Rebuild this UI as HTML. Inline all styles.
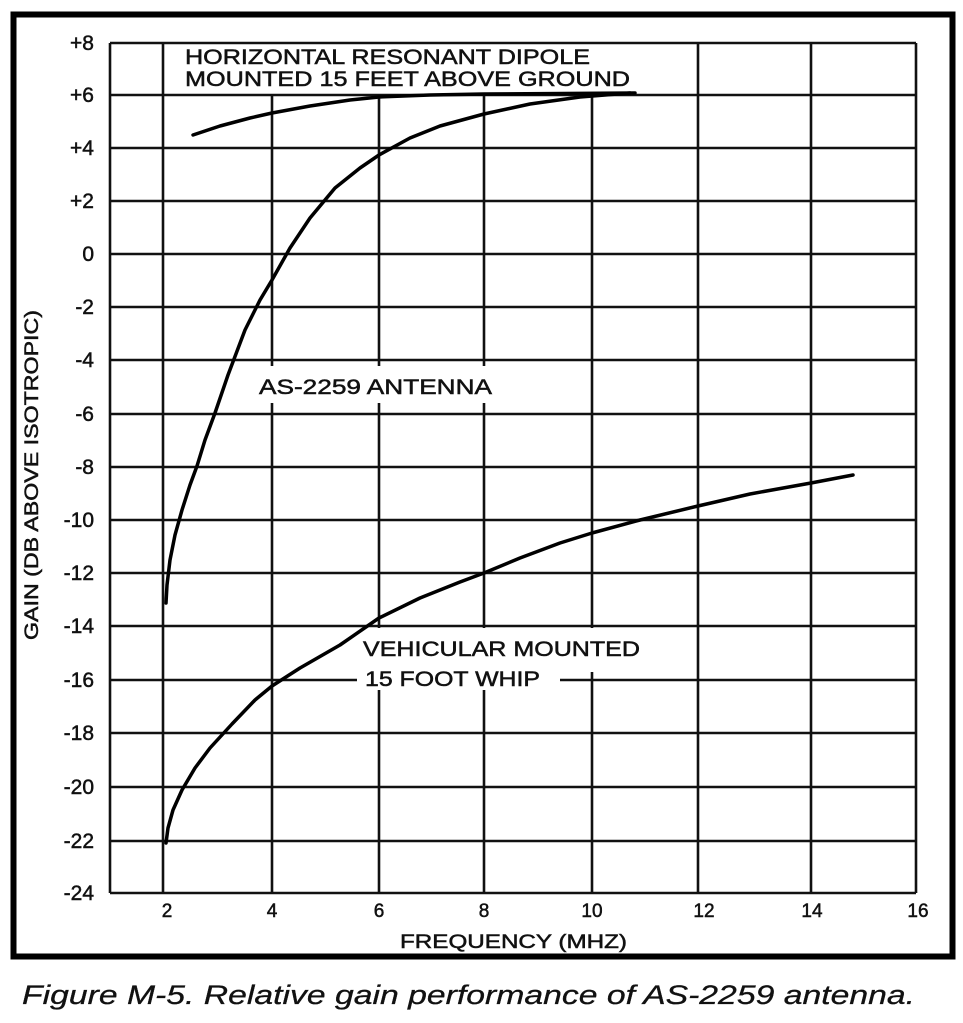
<!DOCTYPE html>
<html><head><meta charset="utf-8"><style>
body{margin:0;background:#fff;width:963px;height:1023px;overflow:hidden}
svg{display:block}
text{font-family:"Liberation Sans",Arial,sans-serif;fill:#111;stroke:#111;stroke-width:0.5}
</style></head><body>
<svg width="963" height="1023" viewBox="0 0 963 1023">
<rect x="13.5" y="14.5" width="939" height="942" fill="none" stroke="#000" stroke-width="6"/>
<g stroke="#111" stroke-width="2.6" fill="none">
<line x1="110" y1="43" x2="916" y2="43"/>
<line x1="110" y1="95" x2="916" y2="95"/>
<line x1="110" y1="148" x2="916" y2="148"/>
<line x1="110" y1="201" x2="916" y2="201"/>
<line x1="110" y1="254" x2="916" y2="254"/>
<line x1="110" y1="307" x2="916" y2="307"/>
<line x1="110" y1="360" x2="916" y2="360"/>
<line x1="110" y1="414" x2="916" y2="414"/>
<line x1="110" y1="467" x2="916" y2="467"/>
<line x1="110" y1="520" x2="916" y2="520"/>
<line x1="110" y1="573" x2="916" y2="573"/>
<line x1="110" y1="626" x2="916" y2="626"/>
<line x1="110" y1="680" x2="357" y2="680"/>
<line x1="560" y1="680" x2="916" y2="680"/>
<line x1="110" y1="733" x2="916" y2="733"/>
<line x1="110" y1="787" x2="916" y2="787"/>
<line x1="110" y1="841" x2="916" y2="841"/>
<line x1="110" y1="893" x2="916" y2="893"/>
<line x1="110" y1="43" x2="110" y2="893"/>
<line x1="916" y1="43" x2="916" y2="893"/>
<line x1="163" y1="43" x2="163" y2="893"/>
<line x1="698" y1="43" x2="698" y2="893"/>
<line x1="811" y1="43" x2="811" y2="893"/>
<line x1="272" y1="95" x2="272" y2="366"/>
<line x1="272" y1="403" x2="272" y2="893"/>
<line x1="379" y1="95" x2="379" y2="366"/>
<line x1="379" y1="403" x2="379" y2="628"/>
<line x1="379" y1="690" x2="379" y2="893"/>
<line x1="484" y1="95" x2="484" y2="366"/>
<line x1="484" y1="403" x2="484" y2="628"/>
<line x1="484" y1="690" x2="484" y2="893"/>
<line x1="592" y1="95" x2="592" y2="628"/>
<line x1="592" y1="672" x2="592" y2="893"/>
</g>
<g stroke="#000" stroke-width="3.5" fill="none" stroke-linecap="round" stroke-linejoin="round">
<polyline points="193,135 220,126 250,118 272,113 310,106 350,100 379,97 430,95 484,94 635,93"/>
<polyline points="166,603 167,585 170,560 175,535 182,510 190,485 197,466 205,440 215,413 228,375 245,330 260,300 272,280 290,248 310,218 335,188 360,168 379,155 410,138 440,126 484,114 530,104 580,97 630,93"/>
<polyline points="166,843 168,828 173,810 182,790 195,768 210,748 232,724 255,700 272,686 300,668 340,645 379,618 420,598 460,582 484,573 520,558 560,543 592,533 640,520 698,506 750,494 811,483 853,475"/>
</g>
<g font-size="21" text-anchor="end">
<text x="94" y="50">+8</text>
<text x="94" y="102">+6</text>
<text x="94" y="155">+4</text>
<text x="94" y="208">+2</text>
<text x="94" y="261">0</text>
<text x="94" y="314">-2</text>
<text x="94" y="367">-4</text>
<text x="94" y="421">-6</text>
<text x="94" y="474">-8</text>
<text x="94" y="527">-10</text>
<text x="94" y="580">-12</text>
<text x="94" y="633">-14</text>
<text x="94" y="687">-16</text>
<text x="94" y="740">-18</text>
<text x="94" y="794">-20</text>
<text x="94" y="848">-22</text>
<text x="94" y="900">-24</text>
</g>
<g font-size="19" text-anchor="middle">
<text x="167" y="917">2</text><text x="272" y="917">4</text><text x="379" y="917">6</text>
<text x="484" y="917">8</text><text x="592" y="917">10</text><text x="704" y="917">12</text>
<text x="812" y="917">14</text><text x="918" y="917">16</text>
</g>
<text x="400" y="948" font-size="19" textLength="227" lengthAdjust="spacingAndGlyphs">FREQUENCY (MHZ)</text>
<text transform="translate(38,640) rotate(-90)" font-size="19" textLength="330" lengthAdjust="spacingAndGlyphs">GAIN (DB ABOVE ISOTROPIC)</text>
<g font-size="21">
<text x="185" y="64" textLength="405" lengthAdjust="spacingAndGlyphs">HORIZONTAL RESONANT DIPOLE</text>
<text x="185" y="86" textLength="445" lengthAdjust="spacingAndGlyphs">MOUNTED 15 FEET ABOVE GROUND</text>
<text x="259" y="394" textLength="233" lengthAdjust="spacingAndGlyphs">AS-2259 ANTENNA</text>
<text x="363" y="656" textLength="277" lengthAdjust="spacingAndGlyphs">VEHICULAR MOUNTED</text>
<text x="365" y="686" textLength="175" lengthAdjust="spacingAndGlyphs">15 FOOT WHIP</text>
</g>
<text x="22" y="1004" font-size="27" font-style="italic" fill="#222" style="stroke-width:0.3" textLength="893" lengthAdjust="spacingAndGlyphs">Figure M-5. Relative gain performance of AS-2259 antenna.</text>
</svg>
</body></html>
